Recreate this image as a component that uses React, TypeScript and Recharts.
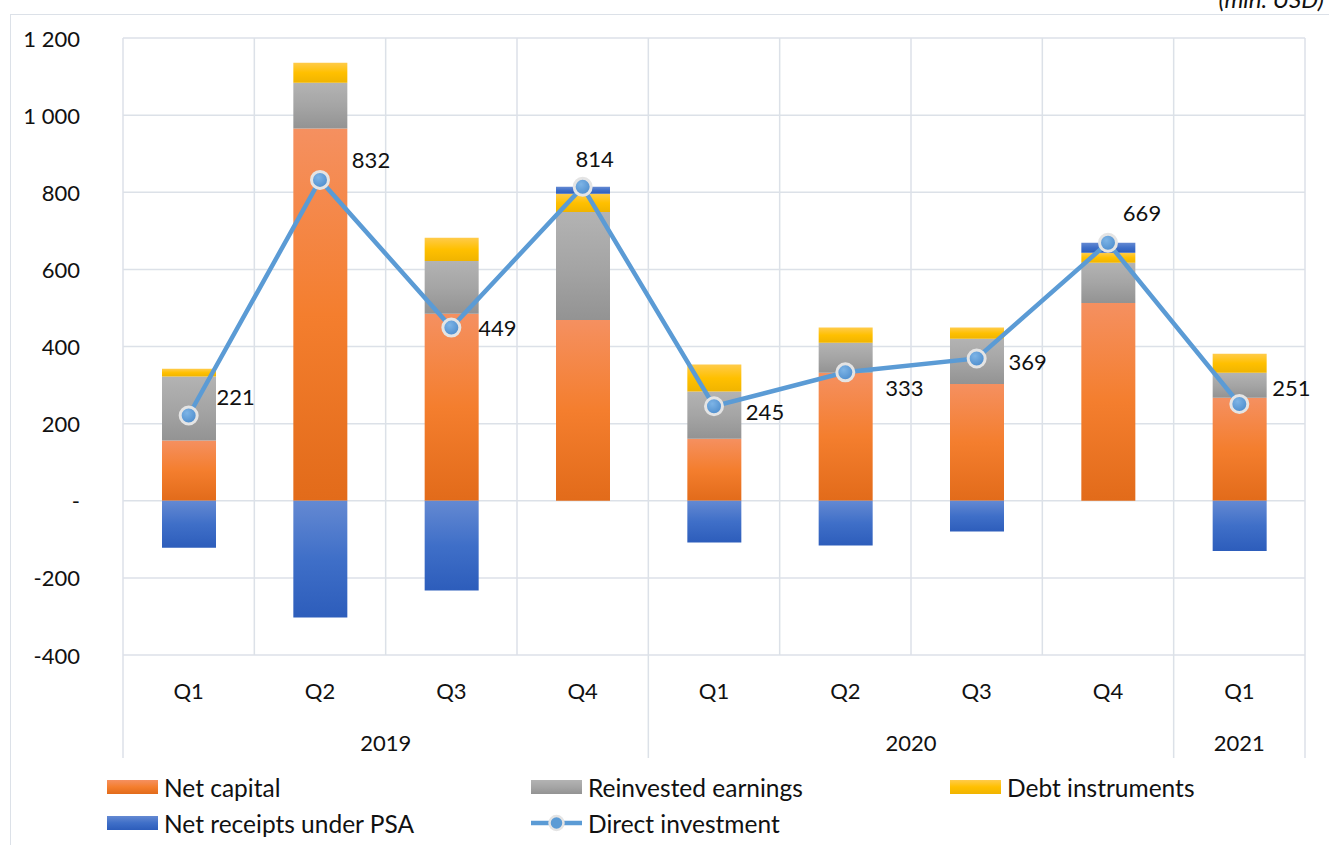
import React from "react";
import {
  ComposedChart, Bar, Line, XAxis, YAxis, CartesianGrid, LabelList,
} from "recharts";

const quarters = ["Q1", "Q2", "Q3", "Q4", "Q1", "Q2", "Q3", "Q4", "Q1"];
const years = ["2019", "2019", "2019", "2019", "2020", "2020", "2020", "2020", "2021"];
const netCapital = [156, 965, 485, 469, 161, 332, 303, 513, 267];
const reinvested = [166, 119, 137, 280, 122, 78, 117, 104, 65];
const debt = [20, 52, 60, 47, 70, 39, 29, 26, 49];
const psa = [-122, -303, -233, 18, -108, -116, -80, 26, -130];
const direct = [221, 832, 449, 814, 245, 333, 369, 669, 251];
const yTicks = [-400, -200, 0, 200, 400, 600, 800, 1000, 1200];

const data = quarters.map((q, i) => ({
  q, year: years[i],
  net: netCapital[i], re: reinvested[i], debt: debt[i], psa: psa[i], di: direct[i],
}));

const W = 1329, H = 845;
const M = { top: 38, right: 24, left: 10, bottom: 87 };
const Y_W = 113, X_H = 103;
const PLOT_L = M.left + Y_W;
const PLOT_R = W - M.right;
const BAND = (PLOT_R - PLOT_L) / quarters.length;
const FONT = "Lato, 'Open Sans', sans-serif";
const FS = 22;
const LEG_FS = 24.5;
const GRID = "#DCE1E8";
const LINE = "#5B9BD5";

// manual nudges for data labels (Excel had them dragged around)
const labelOffsets: [number, number][] = [
  [47, -19], [51, -20], [46, 0], [12, -28], [51, 5], [59, 15], [51, 3], [34, -30], [52, -16],
];

const fmt = (v: number) => {
  if (v === 0) return "-";
  const s = Math.abs(v).toString().replace(/\B(?=(\d{3})+(?!\d))/g, " ");
  return v < 0 ? "-" + s : s;
};

function YTick({ x, y, payload }: any) {
  return (
    <text x={x} y={y} textAnchor="end" dominantBaseline="central"
      fontFamily={FONT} fontSize={FS} fill="#111">{fmt(payload.value)}</text>
  );
}

function XTick({ x, y, payload, index }: any) {
  const i = index ?? payload.index;
  const first = i === 0 || years[i] !== years[i - 1];
  let span = 1;
  while (first && i + span < years.length && years[i + span] === years[i]) span++;
  const last = i === years.length - 1;
  return (
    <g>
      <text x={x} y={y + 35} textAnchor="middle" dominantBaseline="central"
        fontFamily={FONT} fontSize={FS} fill="#111">{payload.value}</text>
      {first && (
        <>
          <line x1={x - BAND / 2} x2={x - BAND / 2} y1={y} y2={y + X_H} stroke={GRID} strokeWidth={1.5} />
          <text x={x + ((span - 1) / 2) * BAND} y={y + 87} textAnchor="middle" dominantBaseline="central"
            fontFamily={FONT} fontSize={FS} fill="#111">{years[i]}</text>
        </>
      )}
      {last && <line x1={x + BAND / 2} x2={x + BAND / 2} y1={y} y2={y + X_H} stroke={GRID} strokeWidth={1.5} />}
    </g>
  );
}

function DiLabel({ x, y, value, index }: any) {
  const [dx, dy] = labelOffsets[index] || [40, 0];
  return (
    <text x={x + dx} y={y + dy} textAnchor="middle" dominantBaseline="central"
      fontFamily={FONT} fontSize={FS} fill="#111">{value}</text>
  );
}

const legendItems = [
  { name: "Net capital", kind: "bar", c: ["#F59060", "#F47E2E", "#E26B1A"], x: 107 },
  { name: "Reinvested earnings", kind: "bar", c: ["#B3B3B3", "#A5A5A5", "#939393"], x: 531 },
  { name: "Debt instruments", kind: "bar", c: ["#FFCB4A", "#FFC000", "#F0B400"], x: 950 },
  { name: "Net receipts under PSA", kind: "bar", c: ["#6489D2", "#3F6FC8", "#2D5DBB"], x: 107 },
  { name: "Direct investment", kind: "line", c: [LINE], x: 531 },
];

function Grad({ id, c }: { id: string; c: string[] }) {
  return (
    <linearGradient id={id} x1="0" y1="0" x2="0" y2="1">
      <stop offset="0%" stopColor={c[0]} />
      <stop offset="50%" stopColor={c[1]} />
      <stop offset="100%" stopColor={c[2]} />
    </linearGradient>
  );
}

export default function App() {
  return (
    <div style={{ position: "absolute", left: 0, top: 0, width: W, height: H, background: "#fff", overflow: "hidden", fontFamily: FONT }}>
      <div style={{ position: "absolute", left: 10, top: 14, width: W + 20, height: H + 20, borderTop: `1.5px solid ${GRID}`, borderLeft: `1.5px solid ${GRID}` }} />
      <div style={{ position: "absolute", right: 5, top: -13, fontSize: 24, lineHeight: "24px", fontStyle: "italic", color: "#111" }}>(mln. USD)</div>
      <ComposedChart width={W} height={H} data={data} margin={M} stackOffset="sign" barSize={54}
        style={{ position: "absolute", left: 0, top: 0 }}>
        <defs>
          <Grad id="gNet" c={legendItems[0].c} />
          <Grad id="gRe" c={legendItems[1].c} />
          <Grad id="gDebt" c={legendItems[2].c} />
          <Grad id="gPsa" c={legendItems[3].c} />
          <radialGradient id="gDot" cx="40%" cy="35%" r="70%">
            <stop offset="0%" stopColor="#7DB4E6" />
            <stop offset="100%" stopColor="#4A8ACB" />
          </radialGradient>
        </defs>
        <CartesianGrid stroke={GRID} strokeWidth={1.5}
          verticalPoints={quarters.map((_, i) => PLOT_L + i * BAND).concat([PLOT_R])} />
        <XAxis dataKey="q" height={X_H} axisLine={false} tickLine={false} tickSize={0} tickMargin={0}
          interval={0} tick={<XTick />} />
        <YAxis width={Y_W} domain={[-400, 1200]} ticks={yTicks} axisLine={false} tickLine={false}
          tickSize={0} tickMargin={43} tick={<YTick />} />
        <Bar dataKey="net" stackId="s" fill="url(#gNet)" isAnimationActive={false} />
        <Bar dataKey="re" stackId="s" fill="url(#gRe)" isAnimationActive={false} />
        <Bar dataKey="debt" stackId="s" fill="url(#gDebt)" isAnimationActive={false} />
        <Bar dataKey="psa" stackId="s" fill="url(#gPsa)" isAnimationActive={false} />
        <Line dataKey="di" stroke={LINE} strokeWidth={4.5} isAnimationActive={false}
          dot={{ r: 8.5, fill: "url(#gDot)", stroke: "#E4E4E4", strokeWidth: 3 }} activeDot={false}>
          <LabelList dataKey="di" content={<DiLabel />} />
        </Line>
      </ComposedChart>
      {legendItems.map((it, k) => {
        const top = k < 3 ? 787 : 823;
        return (
          <div key={it.name} style={{ position: "absolute", left: it.x, top: top - 16, height: 32, display: "flex", alignItems: "center", fontSize: LEG_FS, color: "#111", whiteSpace: "nowrap" }}>
            {it.kind === "bar" ? (
              <div style={{ width: 51, height: 14, background: `linear-gradient(${it.c[0]}, ${it.c[1]}, ${it.c[2]})` }} />
            ) : (
              <svg width={51} height={22}>
                <line x1={0} x2={51} y1={11} y2={11} stroke={LINE} strokeWidth={4.5} />
                <circle cx={25.5} cy={11} r={7} fill={LINE} stroke="#E4E4E4" strokeWidth={2.5} />
              </svg>
            )}
            <span style={{ marginLeft: 6 }}>{it.name}</span>
          </div>
        );
      })}
    </div>
  );
}
